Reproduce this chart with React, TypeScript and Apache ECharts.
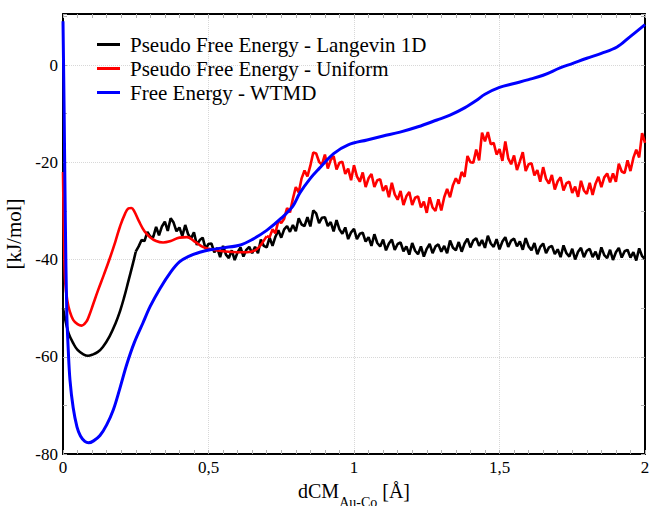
import React, { useEffect, useRef } from "react";
import * as echarts from "echarts";

// ---------- data ----------
const seriesNames = [
  "Pseudo Free Energy - Langevin 1D",
  "Pseudo Free Energy - Uniform",
  "Free Energy - WTMD",
];

const xTickLabels = ["0", "0,5", "1", "1,5", "2"];

// Langevin 1D (black): smooth start, then sampled every 0.01 from 0.25
const blackLeadX = [0, 0.01, 0.02, 0.035, 0.05, 0.07, 0.086, 0.1, 0.12, 0.137, 0.16, 0.18, 0.196, 0.21, 0.224, 0.24];
const blackLeadY = [-50, -53, -55.3, -57.2, -58.6, -59.5, -59.8, -59.6, -59, -58, -55.8, -53.2, -50.6, -47.8, -44.6, -40.9];
const blackSampledStart = 0.25;
const blackSampledY = [
  -38.4, -37.3, -36.0, -36.2, -34.3, -35.3, -35.4, -33.3, -35.0, -33.2,
  -32.2, -34.1, -31.5, -32.4, -34.2, -33.4, -35.2, -32.9, -34.8, -35.7,
  -34.4, -37.0, -36.0, -35.5, -37.8, -36.8, -36.7, -38.5, -37.6, -39.5,
  -37.2, -39.0, -39.7, -38.1, -40.1, -38.5, -37.5, -39.4, -38.0, -37.4,
  -38.7, -37.4, -38.7, -35.9, -37.2, -37.5, -35.5, -37.2, -35.3, -34.0,
  -35.5, -33.8, -33.1, -34.3, -32.9, -34.2, -31.5, -32.8, -33.1, -31.3,
  -33.2, -29.9, -30.5, -32.5, -31.4, -31.3, -33.1, -32.3, -34.2, -31.9,
  -33.8, -34.7, -33.4, -35.8, -34.4, -33.7, -35.8, -34.7, -34.5, -36.3,
  -35.4, -37.2, -34.8, -36.6, -37.3, -35.9, -38.1, -36.7, -35.9, -38.0,
  -36.8, -36.5, -38.3, -37.3, -39.0, -36.6, -38.2, -38.9, -37.3, -39.4,
  -37.8, -36.8, -38.7, -37.3, -36.9, -38.4, -37.2, -38.7, -36.1, -37.6,
  -38.1, -36.4, -38.4, -36.7, -35.7, -37.5, -36.1, -35.6, -37.2, -36.0,
  -37.6, -35.1, -36.7, -37.4, -35.8, -37.9, -36.3, -35.4, -37.4, -36.1,
  -35.7, -37.3, -36.3, -38.0, -35.6, -37.3, -38.1, -36.6, -38.9, -37.4,
  -36.7, -38.7, -37.5, -37.2, -38.9, -37.9, -39.5, -37.1, -38.7, -39.4,
  -37.8, -40.0, -38.4, -37.6, -39.5, -38.2, -37.8, -39.5, -38.4, -40.0,
  -37.5, -39.1, -39.7, -38.0, -40.1, -38.5, -37.6, -39.6, -38.3, -38.0,
  -39.6, -38.5, -40.2, -37.7, -39.3, -39.9,
];

// Uniform (red): smooth start, then sampled every 0.01 from 0.70
const redLeadX = [0, 0.004, 0.008, 0.015, 0.023, 0.035, 0.05, 0.064, 0.08, 0.09, 0.103, 0.12, 0.14, 0.16, 0.18, 0.196, 0.213, 0.225, 0.235, 0.245, 0.26, 0.28, 0.299, 0.32, 0.344, 0.37, 0.4, 0.426, 0.45, 0.48, 0.516, 0.55, 0.6, 0.632, 0.66, 0.68, 0.69];
const redLeadY = [-22, -38, -45, -48.5, -50.6, -52.4, -53.3, -53.6, -52.8, -51.5, -49.3, -46.4, -43.2, -39.9, -36.3, -33.2, -30.6, -29.5, -29.4, -30.1, -32.0, -34.2, -35.4, -36.2, -36.5, -36.2, -35.5, -35.4, -36.2, -37.4, -38, -38.3, -38.5, -38.5, -38.1, -37.0, -36.1];
const redSampledStart = 0.7;
const redSampledY = [
  -35.2, -35.4, -33.8, -34.6, -32.0, -32.5, -31.6, -29.4, -30.3, -27.5,
  -25.1, -26.2, -23.3, -21.7, -22.9, -20.7, -18.0, -18.2, -19.9, -20.5,
  -18.4, -21.3, -19.5, -18.7, -21.5, -20.1, -19.9, -22.4, -21.3, -23.7,
  -20.6, -22.9, -24.0, -22.1, -25.1, -23.3, -22.4, -25.1, -23.7, -23.5,
  -25.9, -24.8, -27.2, -24.2, -26.6, -27.7, -25.9, -28.8, -27.0, -26.1,
  -28.8, -27.3, -27.0, -29.3, -28.1, -30.4, -27.2, -29.3, -30.0, -27.6,
  -29.9, -27.2, -25.5, -27.2, -24.7, -23.3, -24.4, -22.0, -23.0, -18.7,
  -20.0, -20.1, -17.4, -19.6, -13.9, -15.7, -13.8, -16.3, -16.0, -18.4,
  -17.3, -19.7, -15.7, -19.2, -20.4, -18.6, -21.6, -19.8, -17.9, -21.8,
  -20.4, -20.2, -22.7, -21.6, -24.0, -21.0, -23.4, -24.4, -22.6, -25.6,
  -23.9, -23.1, -25.8, -24.3, -24.0, -26.3, -25.0, -27.1, -23.8, -25.8,
  -26.5, -24.2, -26.7, -24.4, -23.0, -25.1, -23.1, -22.3, -24.1, -22.3,
  -24.0, -20.3, -21.9, -22.2, -19.6, -21.8, -19.1, -17.4, -19.0, -14.0,
  -16.0,
];
const sampleStep = 0.01;

// WTMD (blue)
const blueX = [0, 0.004, 0.008, 0.013, 0.018, 0.024, 0.035, 0.048, 0.06, 0.075, 0.088, 0.105, 0.127, 0.15, 0.173, 0.195, 0.219, 0.245, 0.275, 0.3, 0.333, 0.37, 0.4, 0.43, 0.47, 0.505, 0.55, 0.61, 0.65, 0.7, 0.75, 0.79, 0.814, 0.85, 0.88, 0.93, 0.98, 1.045, 1.1, 1.158, 1.22, 1.285, 1.33, 1.38, 1.42, 1.45, 1.5, 1.55, 1.6, 1.65, 1.708, 1.75, 1.8, 1.85, 1.904, 1.948, 2.0];
const blueY = [9, -10, -32, -51, -58.5, -64.8, -70.5, -74.4, -76.3, -77.4, -77.7, -77.3, -76.2, -74.0, -70.9, -66.6, -61.6, -57.1, -53, -49.6, -46, -42.6, -40.5, -39.4, -38.5, -38, -37.6, -37, -35.9, -34, -31.5, -29, -26.3, -23.3, -21.3, -18.2, -16.4, -15.4, -14.6, -13.8, -12.7, -11.3, -10.3, -8.8, -7.3, -6, -4.6, -3.8, -3.0, -2.1, -0.6, 0.3, 1.4, 2.4, 3.7, 5.8, 8.3];

const seriesColors = ["#000000", "#ff0000", "#0000ff"];

// ---------- helpers ----------
function pairs(xs: number[], ys: number[]) {
  return xs.map((x, i) => [x, ys[i]]);
}
function sampled(start: number, ys: number[]) {
  return ys.map((y, i) => [Math.round((start + i * sampleStep) * 1000) / 1000, y]);
}

const FONT = "Liberation Serif";

export default function App() {
  const ref = useRef<HTMLDivElement>(null);

  useEffect(() => {
    if (!ref.current) return;
    const chart = echarts.init(ref.current, undefined, { renderer: "svg" });

    const blackLead = pairs(blackLeadX, blackLeadY);
    const blackRest = sampled(blackSampledStart, blackSampledY);
    const redLead = pairs(redLeadX, redLeadY);
    const redRest = sampled(redSampledStart, redSampledY);
    const blueData = pairs(blueX, blueY);

    const tickStyle = { color: "#b0b0b0", width: 1 };
    const xFmt = (v: number) => xTickLabels[Math.round(v / 0.5)] ?? "";

    const lineSeries = (name: string, data: number[][], color: string, width: number, smooth: number | boolean) => ({
      name,
      type: "line",
      data,
      xAxisIndex: 0,
      yAxisIndex: 0,
      symbol: "none",
      showSymbol: false,
      smooth,
      color,
      lineStyle: { color, width },
    });

    chart.setOption({
      animation: false,
      backgroundColor: "#ffffff",
      grid: { left: 63, right: 4, top: 14, bottom: 52, containLabel: false, outerBoundsMode: "none" },
      legend: {
        orient: "vertical",
        left: 92,
        top: 29,
        icon: "rect",
        itemWidth: 23,
        itemHeight: 3,
        itemGap: 3,
        itemStyle: { borderWidth: 0 },
        textStyle: { fontFamily: FONT, fontSize: 21, color: "#000", padding: [0, 0, 0, 5] },
        data: seriesNames,
      },
      xAxis: [
        {
          type: "value",
          position: "bottom",
          min: 0,
          max: 2,
          interval: 0.5,
          axisLine: { show: true, onZero: false, lineStyle: { color: "#000", width: 2 } },
          axisTick: { show: true, inside: true, length: 4, lineStyle: tickStyle },
          minorTick: { show: true, splitNumber: 10, length: 4, lineStyle: tickStyle },
          axisLabel: { color: "#000", fontFamily: FONT, fontSize: 17, margin: 5, formatter: xFmt },
          splitLine: { show: true, lineStyle: { color: "#d8d8d8", type: "dotted", width: 1 } },
          name: "{a|dCM}{s|Au-Co}{a| [Å]}",
          nameLocation: "middle",
          nameGap: 26,
          nameTextStyle: {
            color: "#000",
            fontFamily: FONT,
            rich: {
              a: { fontFamily: FONT, fontSize: 20, color: "#000", lineHeight: 20, verticalAlign: "top" },
              s: { fontFamily: FONT, fontSize: 14, color: "#000", lineHeight: 14, padding: [15, 0, 0, 0], verticalAlign: "top" },
            },
          },
        },
        {
          type: "value",
          position: "top",
          min: 0,
          max: 2,
          interval: 0.5,
          axisLine: { show: true, onZero: false, lineStyle: { color: "#000", width: 2 } },
          axisTick: { show: true, inside: true, length: 4, lineStyle: tickStyle },
          minorTick: { show: true, splitNumber: 10, length: 4, lineStyle: tickStyle },
          axisLabel: { show: false },
          splitLine: { show: false },
        },
      ],
      yAxis: [
        {
          type: "value",
          position: "left",
          min: -80,
          max: 10.5,
          interval: 20,
          axisLine: { show: true, onZero: false, lineStyle: { color: "#000", width: 2 } },
          axisTick: { show: true, inside: true, length: 4, lineStyle: tickStyle },
          minorTick: { show: true, splitNumber: 2, length: 4, lineStyle: tickStyle },
          axisLabel: { color: "#000", fontFamily: FONT, fontSize: 17, margin: 5, showMaxLabel: false },
          splitLine: { show: true, lineStyle: { color: "#d8d8d8", type: "dotted", width: 1 } },
          name: "[kJ/mol]",
          nameLocation: "middle",
          nameGap: 30,
          nameRotate: 90,
          nameTextStyle: { color: "#000", fontFamily: FONT, fontSize: 21 },
        },
        {
          type: "value",
          position: "right",
          min: -80,
          max: 10.5,
          interval: 20,
          axisLine: { show: true, onZero: false, lineStyle: { color: "#000", width: 2 } },
          axisTick: { show: true, inside: true, length: 4, lineStyle: tickStyle },
          minorTick: { show: true, splitNumber: 2, length: 4, lineStyle: tickStyle },
          axisLabel: { show: false },
          splitLine: { show: false },
        },
      ],
      series: [
        lineSeries(seriesNames[0], blackLead.concat([blackRest[0]]), seriesColors[0], 2.6, 0.4),
        lineSeries(seriesNames[0], blackRest, seriesColors[0], 2.6, false),
        lineSeries(seriesNames[1], redLead.concat([redRest[0]]), seriesColors[1], 2.6, 0.4),
        lineSeries(seriesNames[1], redRest, seriesColors[1], 2.6, false),
        lineSeries(seriesNames[2], blueData, seriesColors[2], 3, 0.35),
      ],
    });

    return () => chart.dispose();
  }, []);

  return (
    <div
      ref={ref}
      style={{ position: "fixed", left: 0, top: 0, width: 649, height: 506, background: "#fff" }}
    />
  );
}
